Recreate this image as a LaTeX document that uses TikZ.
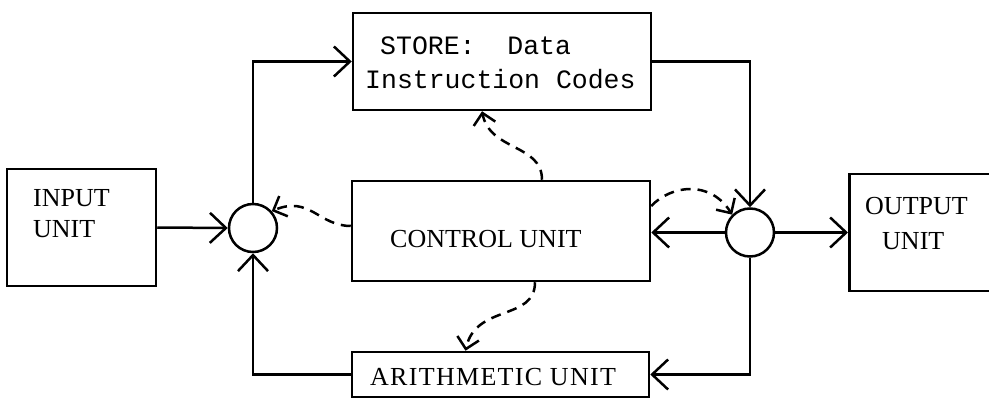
\documentclass[tikz,border=0pt]{standalone}
\usepackage{fontspec}
\setmainfont{Liberation Serif}
\newfontfamily\typewriter{Liberation Mono}
\newfontfamily\widesans[LetterSpace=5.0]{Liberation Serif}
\usetikzlibrary{arrows.meta}

\tikzset{
  unitbox/.style={draw, line width=2.5pt, rectangle, inner sep=0pt},
  junction/.style={draw, line width=2.5pt, circle, minimum size=48pt, inner sep=0pt},
  lbl/.style={inner sep=0pt, anchor=base west, font=\fontsize{26}{30}\selectfont},
  codelbl/.style={inner sep=0pt, anchor=base west, font=\typewriter\fontsize{26.5}{30}\selectfont},
  flow/.style={line width=2.5pt, -{Straight Barb[length=16pt, width=30pt, line width=2.5pt]}},
  ctrlflow/.style={line width=2.5pt, dash pattern=on 10pt off 7pt,
                   -{Straight Barb[length=11pt, width=22pt, line width=2.5pt]}}
}

\begin{document}
\begin{tikzpicture}[x=1pt, y=-1pt]
\useasboundingbox (0,0) rectangle (989,398);

% blocks
\node[unitbox, minimum width=149pt, minimum height=117pt] (inp) at (81.5,227.5) {};
\node[unitbox, minimum width=298pt, minimum height=97pt]  (store) at (502,61.5) {};
\node[unitbox, minimum width=298pt, minimum height=100pt] (ctrl) at (501,231) {};
\node[unitbox, minimum width=297pt, minimum height=45pt]  (arith) at (500.5,374.5) {};
\node[unitbox, minimum width=200pt, minimum height=117pt, anchor=west] (outp) at (848,232.5) {};

% junctions
\node[junction] (lc) at (253,228) {};
\node[junction] (rc) at (750,232.5) {};

% labels
\node[lbl] (inptxt1) at (33,207) {INPUT};
\node[lbl] (inptxt2) at (33,238) {UNIT};
\node[codelbl] (storetxt1) at (380,55) {STORE:\ \ Data};
\node[codelbl] (storetxt2) at (365,89) {Instruction Codes};
\node[lbl] (ctrltxt) at (390,248) {CONTROL UNIT};
\node[lbl, font=\widesans\fontsize{26}{30}\selectfont] (arithtxt) at (370,385) {ARITHMETIC UNIT};
\node[lbl] (outtxt1) at (865,215) {OUTPUT};
\node[lbl] (outtxt2) at (882,250) {UNIT};

% data paths
\draw[flow] (inp.east) -- (lc.west);
\draw[flow] (lc.north) |- (store.west);
\draw[flow] (store.east) -| (rc.north);
\draw[flow] (rc.east) -- (outp.west);
\draw[flow] (rc.west) -- (rc.west -| ctrl.east);
\draw[flow] (rc.south) |- (arith.east);
\draw[flow] (arith.west) -| (lc.south);

% control signals
\draw[ctrlflow] ([xshift=41pt]ctrl.north) .. controls +(0,-36) and +(8,40) .. ([xshift=-20pt]store.south);
\draw[ctrlflow] ([yshift=5pt]ctrl.west) .. controls +(-32,0) and +(38,-16) .. (lc.42);
\draw[ctrlflow] ([yshift=25pt]ctrl.east) .. controls +(20,-21) and +(-22,-35) .. (rc.135);
\draw[ctrlflow] ([xshift=34pt]ctrl.south) .. controls +(0,39) and +(10,-47) .. ([xshift=-35pt]arith.north);
\end{tikzpicture}
\end{document}
